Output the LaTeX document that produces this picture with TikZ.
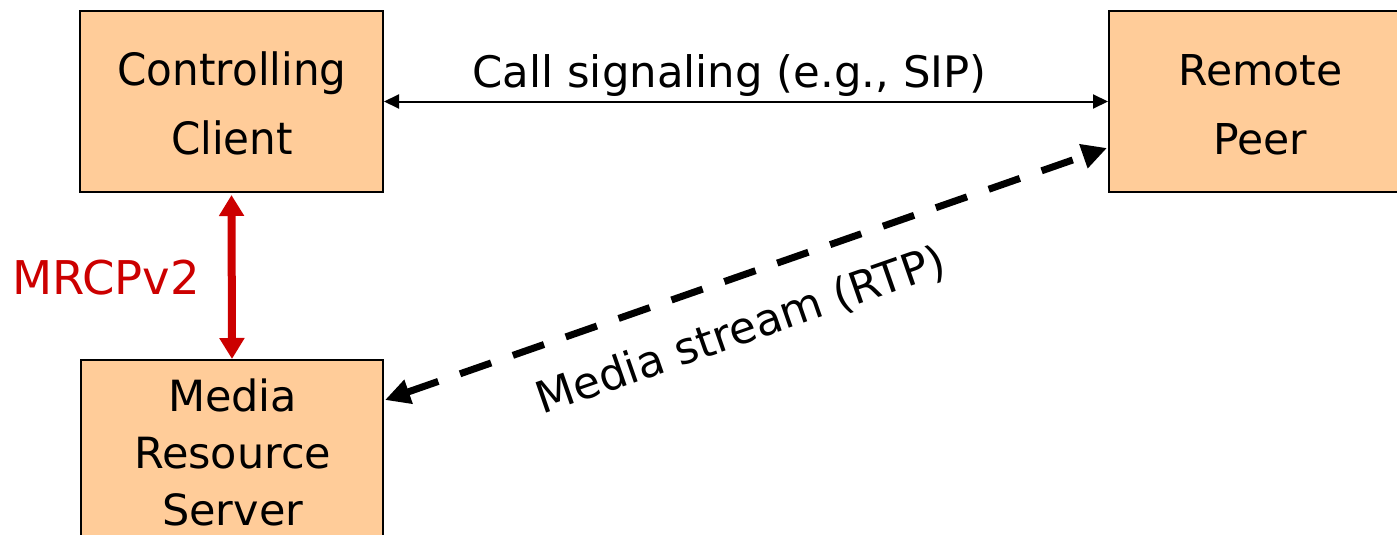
\documentclass[tikz,border=0pt]{standalone}
\usepackage{fontspec}
\setmainfont{DejaVu Sans}
\newfontfamily\narrowf[FakeStretch=0.945]{DejaVu Sans}
\usetikzlibrary{arrows.meta,calc}
\definecolor{peach}{HTML}{FFCC99}
\definecolor{mred}{HTML}{CC0000}
\begin{document}
\begin{tikzpicture}[x=1pt,y=-1pt,
  box/.style={draw=black, line width=2pt, fill=peach, inner sep=0pt},
  txt/.style={inner sep=0pt, align=center},
  thinarrow/.style={line width=2pt, {Triangle[length=15pt,width=14pt]}-{Triangle[length=15pt,width=14pt]}},
  redarrow/.style={draw=mred, line width=8pt, {Triangle[length=21pt,width=24pt]}-{Triangle[length=21pt,width=24pt]}},
  dasharrow/.style={line width=7pt, dash pattern=on 33pt off 23pt,
    {Triangle[length=25pt,width=24pt]}-{Triangle[length=25pt,width=24pt]}}]
\useasboundingbox (0,0) rectangle (1397,535);
\clip (0,0) rectangle (1397,535);
% boxes
\node[box, minimum width=303pt, minimum height=181pt] (cc) at (231.5,101.5) {};
\node[box, minimum width=302pt, minimum height=181pt] (rp) at (1260,101.5) {};
\node[box, minimum width=302pt, minimum height=240pt, anchor=north] (mrs) at (232,359) {};
% box texts
\node[txt, anchor=north, font=\narrowf\fontsize{44.5}{69}\selectfont] (cct) at (232,51.6) {Controlling\\Client};
\node[txt, anchor=north, font=\fontsize{42.5}{69}\selectfont] (rpt) at (1260.5,54.5) {Remote\\Peer};
\node[txt, anchor=north, font=\fontsize{43}{56.7}\selectfont] (mrst) at (232.7,379) {Media\\Resource\\Server};
% connectors
\draw[thinarrow] (cc.east) -- (rp.west);
\node[txt, anchor=base, font=\fontsize{43.4}{52}\selectfont] (cs) at (729.5,88) {Call signaling (e.g., SIP)};
\draw[redarrow] ([yshift=-2pt]cc.south) -- (mrs.north);
\node[txt, anchor=base, text=mred, font=\fontsize{46.5}{52}\selectfont] (mrcp) at (106,294) {MRCPv2};
\coordinate (dA) at ($(mrs.north east)+(1,41)$);
\coordinate (dB) at ($(rp.south west)+(-1,-45)$);
\draw[dasharrow] (dA) -- (dB);
\node[txt, rotate=19.2, font=\fontsize{44}{50}\selectfont] (ms) at (741,331) {Media stream (RTP)};
\end{tikzpicture}
\end{document}
